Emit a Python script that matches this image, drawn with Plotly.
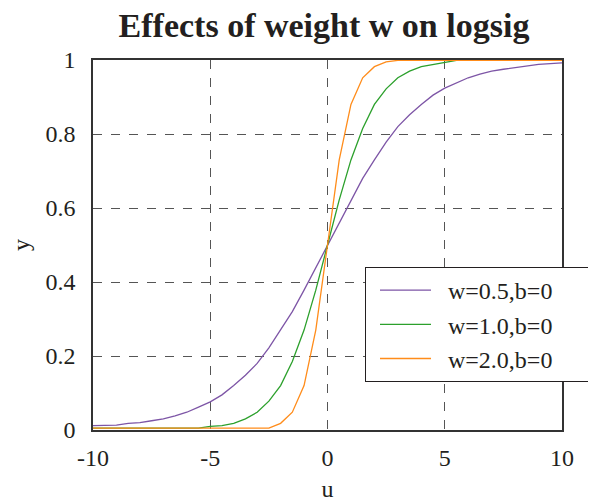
import plotly.graph_objects as go

u = [-10, -9.5, -9, -8.5, -8, -7.5, -7, -6.5, -6, -5.5, -5, -4.5, -4, -3.5, -3, -2.5, -2, -1.5, -1, -0.5,
     0, 0.5, 1, 1.5, 2, 2.5, 3, 3.5, 4, 4.5, 5, 5.5, 6, 6.5, 7, 7.5, 8, 8.5, 9, 9.5, 10]

y_w05 = [0.012, 0.012, 0.013, 0.018, 0.020, 0.025, 0.030, 0.038, 0.048, 0.062, 0.076, 0.095, 0.120, 0.148,
         0.180, 0.222, 0.270, 0.320, 0.378, 0.438, 0.500, 0.562, 0.622, 0.680, 0.730, 0.778, 0.820, 0.852,
         0.880, 0.905, 0.924, 0.938, 0.952, 0.962, 0.970, 0.975, 0.980, 0.985, 0.988, 0.990, 0.992]

y_w10 = [0.005, 0.005, 0.005, 0.005, 0.005, 0.005, 0.005, 0.005, 0.005, 0.005, 0.010, 0.012, 0.018, 0.030,
         0.048, 0.078, 0.120, 0.185, 0.270, 0.378, 0.500, 0.622, 0.730, 0.815, 0.880, 0.922, 0.952, 0.970,
         0.982, 0.988, 0.994, 0.999, 0.999, 0.999, 0.999, 0.999, 0.999, 0.999, 0.999, 0.999, 0.999]

y_w20 = [0.005, 0.005, 0.005, 0.005, 0.005, 0.005, 0.005, 0.005, 0.005, 0.005, 0.005, 0.005, 0.005, 0.005,
         0.005, 0.005, 0.018, 0.048, 0.120, 0.270, 0.500, 0.730, 0.880, 0.952, 0.982, 0.995, 0.999, 0.999,
         0.999, 0.999, 0.999, 0.999, 0.999, 0.999, 0.999, 0.999, 0.999, 0.999, 0.999, 0.999, 0.999]

names = ["w=0.5,b=0", "w=1.0,b=0", "w=2.0,b=0"]
colors = ["#7d55a6", "#2ca02c", "#ff8c1a"]
x_ticks = [-10, -5, 0, 5, 10]
x_tick_text = ["-10", "-5", "0", "5", "10"]
y_ticks = [0, 0.2, 0.4, 0.6, 0.8, 1]
y_tick_text = ["0", "0.2", "0.4", "0.6", "0.8", "1"]

fig = go.Figure()
for ys, name, c in zip([y_w05, y_w10, y_w20], names, colors):
    fig.add_trace(go.Scatter(x=u, y=ys, mode="lines",
                             name="\u00a0\u00a0" + name + "\u00a0" * 5,
                             line=dict(color=c, width=1.3, shape="linear")))

serif = "Liberation Serif, Times New Roman, serif"
ink = "#231f20"
# The page body has an 8px margin, so the figure is laid out 8px smaller / shifted.
W, H = 588, 494
fig.update_layout(
    width=W, height=H, autosize=False,
    margin=dict(l=85, r=34, t=52, b=72, autoexpand=False),
    paper_bgcolor="white", plot_bgcolor="white",
    title=dict(text="<b>Effects of weight w on logsig</b>", x=316 / W, xanchor="center",
               xref="container", y=1 - 17 / H, yanchor="middle", yref="container",
               font=dict(family=serif, size=34, color=ink)),
    font=dict(family=serif, size=24, color=ink),
    legend=dict(x=(365 - 93) / 469, xanchor="left", y=(430 - 267) / 370, yanchor="top",
                bgcolor="white", bordercolor=ink, borderwidth=1,
                font=dict(family=serif, size=24, color=ink),
                itemwidth=51, indentation=9),
    showlegend=True,
)
fig.update_xaxes(range=[-10, 10], tickvals=x_ticks, ticktext=x_tick_text, showgrid=True,
                 gridcolor="#555", griddash="dash", gridwidth=1, showline=True, linecolor="#333",
                 linewidth=1.5, mirror=True, zeroline=False, ticks="outside", ticklen=5,
                 tickcolor="rgba(0,0,0,0)", automargin=False,
                 title=dict(text="u", font=dict(family=serif, size=24), standoff=15),
                 tickfont=dict(family=serif, size=24))
fig.update_yaxes(range=[0, 1], tickvals=y_ticks, ticktext=y_tick_text, showgrid=True,
                 gridcolor="#555", griddash="dash", gridwidth=1, showline=True, linecolor="#333",
                 linewidth=1.5, mirror=True, zeroline=False, ticks="outside", ticklen=11,
                 tickcolor="rgba(0,0,0,0)", automargin=False,
                 title=dict(text="y", font=dict(family=serif, size=24), standoff=17),
                 tickfont=dict(family=serif, size=24))

fig.write_html("out.html", config={"displayModeBar": False, "responsive": False})
